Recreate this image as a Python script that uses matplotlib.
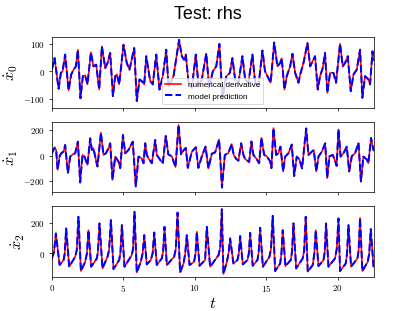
import matplotlib
matplotlib.use("Agg")
import matplotlib.pyplot as plt
from matplotlib.ticker import FuncFormatter

# Configuração global (imitando o visual LaTeX)
plt.rcParams['font.family'] = ['Liberation Sans', 'DejaVu Sans']
plt.rcParams['mathtext.fontset'] = 'cm'
plt.rcParams['font.size'] = 10

# Dados: x0' (painel de cima)
t_x0 = [0.00, 0.19, 0.47, 0.63, 0.75, 0.93, 1.17, 1.35, 1.52, 1.68, 1.82, 2.00, 2.17, 2.33, 2.49,
        2.73, 2.91, 3.10, 3.31, 3.50, 3.73, 3.89, 4.08, 4.27, 4.43, 4.55, 4.71, 5.01, 5.24, 5.43,
        5.76, 5.94, 6.13, 6.29, 6.46, 6.60, 6.88, 7.06, 7.30, 7.53, 7.76, 8.00, 8.16, 8.51, 8.90,
        9.09, 9.25, 9.37, 9.56, 9.79, 10.07, 10.26, 10.49, 10.80, 11.00, 11.26, 11.50, 11.72, 11.93,
        12.20, 12.45, 12.63, 12.82, 13.05, 13.33, 13.52, 13.75, 14.03, 14.22, 14.45, 14.73, 14.91,
        15.31, 15.55, 15.78, 15.97, 16.08, 16.27, 16.43, 16.67, 16.83, 17.02, 17.25, 17.37, 17.60,
        17.88, 18.07, 18.23, 18.41, 18.60, 18.76, 18.95, 19.11, 19.27, 19.46, 19.70, 19.88, 20.16,
        20.35, 20.51, 20.70, 20.91, 21.10, 21.33, 21.56, 21.72, 21.91, 22.14, 22.26, 22.43, 22.50]
x0_num = [6, 48, -64, -6, 0, 61, -70, -12, 6, 18, 79, -99, -18, -15, -48,
          69, 18, 24, -67, 91, 12, 30, 67, -91, -18, -12, -48, 97, 30, 6,
          85, -109, -30, -36, -48, 55, -36, -48, 61, -67, -18, 79, -55, -18, 115,
          55, 42, 61, -42, -61, 61, -55, -30, 65, -60, 0, 18, 100, -100,
          -18, -6, 48, -30, -42, 55, -30, -42, 61, -42, -55, 76, 0,
          -42, 105, 18, 30, 48, -67, -18, 18, 64, -6, -42, -12, 30,
          103, 18, 36, 55, -67, -18, 12, 67, -79, -6, -6, -42, 101,
          18, 30, 55, -73, -12, 6, 79, -97, -18, -30, -48, 73, 40]

# x1' (painel do meio)
t_x1 = [0.00, 0.19, 0.30, 0.40, 0.54, 0.65, 0.82, 0.93, 1.12, 1.28, 1.47, 1.63, 1.82, 1.98, 2.14,
        2.28, 2.49, 2.68, 2.80, 2.91, 3.08, 3.19, 3.43, 3.61, 3.78, 3.96, 4.08, 4.24, 4.43, 4.66,
        4.78, 4.97, 5.13, 5.36, 5.66, 5.87, 6.06, 6.29, 6.41, 6.53, 6.64, 6.76, 6.99, 7.23, 7.34,
        7.58, 7.76, 7.97, 8.15, 8.39, 8.65, 8.86, 9.04, 9.20, 9.37, 9.51, 9.79, 10.07, 10.25, 10.49,
        10.75, 10.95, 11.19, 11.42, 11.70, 11.90, 12.10, 12.35, 12.58, 12.72, 12.89, 13.05, 13.24,
        13.40, 13.52, 13.80, 13.96, 14.10, 14.34, 14.50, 14.66, 14.85, 15.03, 15.27, 15.36, 15.50,
        15.69, 15.85, 15.99, 16.18, 16.32, 16.55, 16.78, 16.95, 17.13, 17.32, 17.50, 17.79, 17.95,
        18.18, 18.32, 18.50, 18.65, 18.88, 19.12, 19.26, 19.42, 19.65, 19.81, 19.92, 20.05, 20.20,
        20.40, 20.63, 20.80, 20.98, 21.21, 21.45, 21.62, 21.79, 22.03, 22.14, 22.33, 22.50]
x1_num = [18, 62, 44, -111, -8, 18, 31, 83, -137, -8, 10, 18, 109, -210, 5,
          -8, -73, 135, 44, 57, -34, -85, 179, 5, 18, 57, 96, -189, -8, -47,
          -98, 161, 18, 44, 109, -241, -8, -21, -60, 96, 5, -21, -60, 122, 5,
          -34, -60, 153, 8, -5, -90, 240, 10, 40, 60, -96, 30, 65, -96, -5,
          70, -100, 15, 25, 125, -250, 5, 20, 90, 5, -25, -40, 96,
          5, -27, -50, 110, 5, -30, -60, 140, 5, -5, -45, -98, 215,
          5, 18, 70, -124, -8, 18, 86, -160, -8, -30, -100, 212, 5,
          30, 44, -124, -8, 30, 96, -176, -5, 5, -40, -80, 205, -8,
          18, 70, -124, -5, 18, 99, -202, -8, -30, -60, 138, 40]

# x2' (painel de baixo)
t_x2 = [0.00, 0.15, 0.28, 0.54, 0.82, 0.90, 1.00, 1.21, 1.63, 1.74, 1.86, 2.03, 2.33, 2.45, 2.56,
        2.75, 3.15, 3.22, 3.33, 3.54, 3.89, 4.00, 4.13, 4.31, 4.71, 4.80, 4.90, 5.08, 5.59, 5.68,
        5.78, 5.94, 6.22, 6.35, 6.46, 6.64, 6.92, 7.05, 7.16, 7.34, 7.69, 7.78, 7.88, 8.04, 8.55,
        8.67, 8.79, 8.97, 9.21, 9.33, 9.44, 9.63, 9.95, 10.05, 10.14, 10.33, 10.72, 10.84, 11.07,
        11.66, 11.78, 11.89, 12.00, 12.24, 12.36, 12.47, 12.70, 12.98, 13.08, 13.17, 13.36, 13.68,
        13.78, 13.87, 14.05, 14.38, 14.47, 14.57, 14.76, 15.22, 15.33, 15.45, 15.62, 15.97, 16.06,
        16.15, 16.34, 16.71, 16.80, 16.90, 17.09, 17.55, 17.65, 17.76, 17.90, 18.25, 18.36, 18.46,
        18.65, 19.00, 19.09, 19.18, 19.35, 19.81, 19.93, 20.05, 20.16, 20.56, 20.65, 20.75, 20.93,
        21.38, 21.46, 21.56, 21.72, 22.10, 22.20, 22.31, 22.50]
x2_num = [-32, 10, 129, -75, -43, 0, 161, -86, -22, 20, 237, -114, -54, 0, 150,
          -86, -32, 10, 194, -97, -22, 20, 215, -101, -43, 10, 183, -86, -11, 30,
          269, -123, -54, 0, 118, -71, -43, 0, 135, -75, -32, 10, 172, -75, -22,
          30, 264, -123, -65, 0, 118, -75, -54, 0, 140, -80, -43, 172, -86,
          -11, 40, 286, -133, -54, 0, 97, -65, -43, 0, 112, -71, -43,
          0, 133, -80, -43, 10, 166, -86, -22, 30, 243, -114, -65, 0,
          150, -82, -43, 10, 194, -97, -32, 20, 237, -118, -75, 0, 150,
          -82, -43, 10, 194, -86, -32, 30, 226, -114, -65, 0, 183, -86,
          -32, 20, 230, -114, -54, 0, 157, -86]

# A previsão do modelo coincide com a derivada numérica
series = [(t_x0, x0_num, x0_num), (t_x1, x1_num, x1_num), (t_x2, x2_num, x2_num)]
ylabels = [r'$\dot{x}_0$', r'$\dot{x}_1$', r'$\dot{x}_2$']
ylims = [(-133, 125), (-286, 265), (-151, 305)]
yticks = [[-100, 0, 100], [-200, 0, 200], [0, 200]]

fig, axes = plt.subplots(3, 1, sharex=True, figsize=(6.4, 4.8))
fig.suptitle('Test: rhs', fontsize=20)

for i, ax in enumerate(axes):
    t, num, pred = series[i]
    ax.plot(t, num, 'r', lw=1.8, label='numerical derivative')
    ax.plot(t, pred, 'b--', lw=2.2, label='model prediction')
    ax.set_ylabel(ylabels[i], fontsize=18)
    ax.set_ylim(*ylims[i])
    ax.set_yticks(yticks[i])
    ax.yaxis.set_major_formatter(FuncFormatter(lambda v, _: f'${int(v)}$'))
    ax.xaxis.set_major_formatter(FuncFormatter(lambda v, _: f'${int(v)}$'))
    ax.set_xlim(0, 22.5)

axes[0].legend(loc='lower center', fontsize=9)
axes[2].set_xticks([0, 5, 10, 15, 20])
axes[2].set_xlabel(r'$t$', fontsize=18, labelpad=2)

plt.savefig('out.png', dpi=415 / 6.4)
